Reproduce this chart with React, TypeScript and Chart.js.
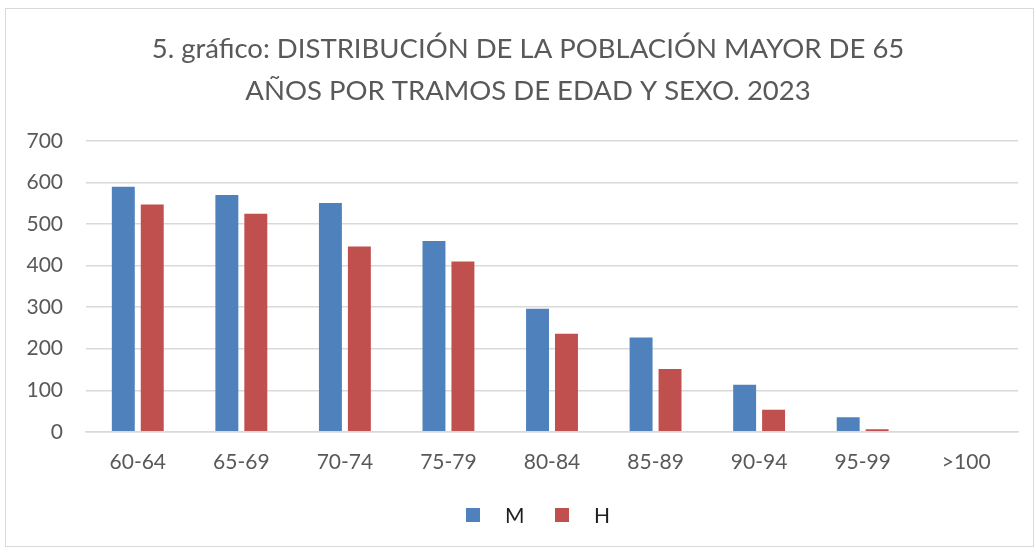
import React, { useEffect, useRef } from "react";
import { Chart, registerables } from "chart.js";

Chart.register(...registerables);

const categories = ["60-64", "65-69", "70-74", "75-79", "80-84", "85-89", "90-94", "95-99", ">100"];
const seriesM = [590, 570, 551, 459, 296, 227, 113, 35, 0];
const seriesH = [547, 525, 446, 410, 236, 151, 53, 6, 0];
const seriesNames = ["M", "H"];
const seriesColors = ["#4F81BD", "#C0504D"];
const yTicks = [0, 100, 200, 300, 400, 500, 600, 700];
const titleLines = [
  "5. gráfico: DISTRIBUCIÓN DE LA POBLACIÓN MAYOR DE 65",
  "AÑOS POR TRAMOS DE EDAD Y SEXO. 2023",
];

const FONT = "Lato, 'Open Sans', sans-serif";

const titlePlugin = {
  id: "customTitle",
  afterDraw(chart: any) {
    const ctx = chart.ctx;
    ctx.save();
    ctx.font = `27.5px ${FONT}`;
    ctx.fillStyle = "#595959";
    ctx.textAlign = "center";
    ctx.textBaseline = "middle";
    const cx = 522;
    titleLines.forEach((line, i) => {
      ctx.fillText(line, cx, 40 + i * 42);
    });
    ctx.restore();
  },
};

const legendPlugin = {
  id: "customLegend",
  afterDraw(chart: any) {
    const ctx = chart.ctx;
    const ds = chart.data.datasets;
    const y = 506;
    const starts = [460, 549];
    ctx.save();
    ctx.font = `21px ${FONT}`;
    ctx.textBaseline = "middle";
    ctx.textAlign = "left";
    ds.forEach((d: any, i: number) => {
      const x = starts[i];
      ctx.fillStyle = d.backgroundColor;
      ctx.fillRect(x, y - 7, 14, 14);
      ctx.fillStyle = "#1f1f1f";
      ctx.fillText(d.label, x + 39, y + 1);
    });
    ctx.restore();
  },
};

export default function App() {
  const ref = useRef<HTMLCanvasElement>(null);
  useEffect(() => {
    if (!ref.current) return;
    const chart = new Chart(ref.current, {
      type: "bar",
      data: {
        labels: categories,
        datasets: [
          { label: seriesNames[0], data: seriesM, backgroundColor: seriesColors[0], categoryPercentage: 0.559, barPercentage: 0.793 },
          { label: seriesNames[1], data: seriesH, backgroundColor: seriesColors[1], categoryPercentage: 0.559, barPercentage: 0.793 },
        ],
      },
      plugins: [titlePlugin, legendPlugin],
      options: {
        animation: false,
        responsive: false,
        maintainAspectRatio: false,
        layout: { padding: { left: 0, right: 15, top: 132, bottom: 53 } },
        plugins: {
          tooltip: { enabled: false },
          legend: { display: false },
          title: { display: false },
        },
        scales: {
          x: {
            grid: { display: false, drawTicks: false },
            border: { display: true, color: "#d9d9d9", width: 1.5 },
            ticks: { color: "#595959", font: { family: FONT, size: 21 }, padding: 18 },
          },
          y: {
            min: 0,
            max: 700,
            afterBuildTicks: (s: any) => {
              s.ticks = yTicks.map((v) => ({ value: v }));
            },
            afterFit: (s: any) => {
              s.width = 80;
            },
            grid: { color: "#d9d9d9", lineWidth: 1.5, drawTicks: false },
            border: { display: false },
            ticks: { color: "#595959", font: { family: FONT, size: 21 }, padding: 23 },
          },
        },
      },
    });
    return () => chart.destroy();
  }, []);
  return (
    <div
      style={{
        position: "absolute",
        left: 5,
        top: 8,
        width: 1029,
        height: 539,
        border: "1px solid #d9d9d9",
        boxSizing: "border-box",
        background: "#fff",
      }}
    >
      <canvas ref={ref} width={1027} height={537} style={{ display: "block" }} />
    </div>
  );
}
